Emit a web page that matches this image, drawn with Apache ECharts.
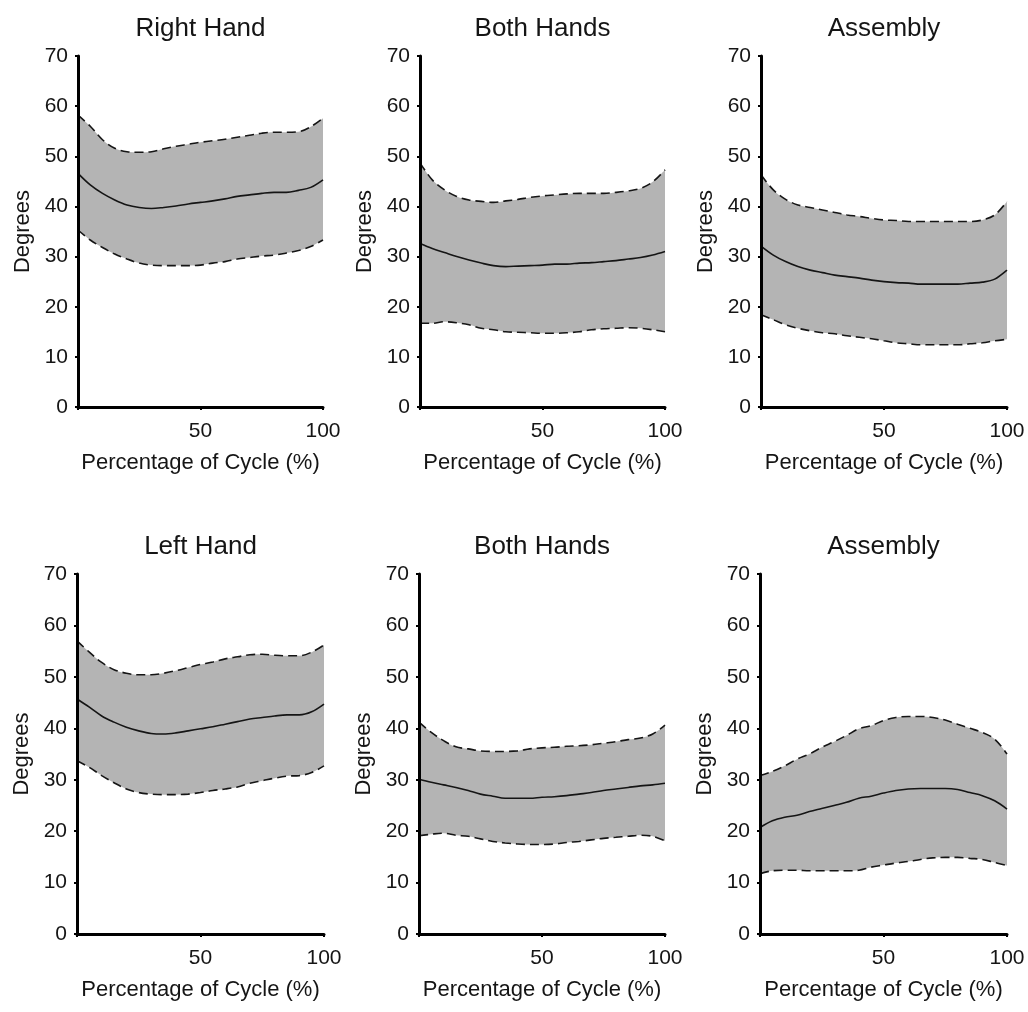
<!DOCTYPE html>
<html>
<head>
<meta charset="utf-8">
<title>Joint angle over the work cycle</title>
<script src="https://cdn.jsdelivr.net/npm/echarts@6/dist/echarts.min.js"></script>
<style>
  html, body { margin: 0; padding: 0; background: #ffffff; }
  #chart { width: 1028px; height: 1012px; }
</style>
</head>
<body>
<div id="chart"></div>
<script>
// Percentage of the cycle at which each curve is sampled
const pct = [0, 5, 10, 15, 20, 25, 30, 35, 40, 45, 50, 55, 60, 65, 70, 75, 80, 85, 90, 95, 100];

// Tick values of the axes
const yTicks = [0, 10, 20, 30, 40, 50, 60, 70];
const xTicks = [0, 50, 100];

// Panel titles, in reading order (top row, then bottom row)
const titles = ['Right Hand', 'Both Hands', 'Assembly', 'Left Hand', 'Both Hands', 'Assembly'];

// Right Hand
const rightHandUpper = [58.2, 56.0, 53.3, 51.6, 50.9, 50.8, 50.9, 51.5, 52.0, 52.4, 52.8, 53.1, 53.4, 53.8, 54.2, 54.6, 54.8, 54.8, 54.9, 55.9, 57.6];
const rightHandMean  = [46.6, 44.3, 42.6, 41.3, 40.3, 39.8, 39.6, 39.8, 40.1, 40.5, 40.8, 41.1, 41.5, 42.0, 42.3, 42.6, 42.8, 42.8, 43.2, 43.8, 45.3];
const rightHandLower = [35.3, 33.3, 31.8, 30.5, 29.5, 28.7, 28.3, 28.2, 28.2, 28.2, 28.3, 28.7, 29.0, 29.5, 29.8, 30.1, 30.3, 30.7, 31.2, 32.0, 33.3];

// Both Hands (top)
const bothTopUpper = [48.7, 45.3, 43.3, 42.0, 41.3, 41.0, 40.8, 41.1, 41.4, 41.8, 42.1, 42.3, 42.5, 42.6, 42.6, 42.6, 42.8, 43.1, 43.6, 44.9, 47.3];
const bothTopMean  = [32.6, 31.6, 30.8, 30.0, 29.3, 28.7, 28.2, 28.0, 28.1, 28.2, 28.3, 28.5, 28.5, 28.7, 28.8, 29.0, 29.2, 29.5, 29.8, 30.3, 31.0];
const bothTopLower = [16.7, 16.7, 17.0, 16.8, 16.4, 15.7, 15.4, 15.0, 14.9, 14.8, 14.7, 14.7, 14.8, 15.0, 15.4, 15.6, 15.7, 15.8, 15.7, 15.4, 15.0];

// Assembly (top)
const assemblyTopUpper = [46.3, 43.3, 41.4, 40.3, 39.8, 39.3, 38.8, 38.3, 38.0, 37.6, 37.3, 37.2, 37.0, 37.0, 37.0, 37.0, 37.0, 37.0, 37.3, 38.3, 41.0];
const assemblyTopMean  = [32.1, 30.3, 29.0, 28.0, 27.3, 26.8, 26.3, 26.0, 25.7, 25.3, 25.0, 24.8, 24.7, 24.5, 24.5, 24.5, 24.5, 24.7, 24.9, 25.5, 27.3];
const assemblyTopLower = [18.4, 17.4, 16.4, 15.7, 15.2, 14.8, 14.6, 14.2, 13.9, 13.6, 13.2, 12.8, 12.6, 12.4, 12.4, 12.4, 12.4, 12.6, 12.8, 13.2, 13.5];

// Left Hand
const leftHandUpper = [57.0, 54.8, 52.8, 51.4, 50.7, 50.4, 50.4, 50.7, 51.2, 51.8, 52.4, 52.9, 53.5, 53.9, 54.3, 54.4, 54.2, 54.1, 54.1, 54.8, 56.2];
const leftHandMean  = [45.7, 44.1, 42.4, 41.2, 40.2, 39.5, 39.0, 38.9, 39.1, 39.5, 39.9, 40.3, 40.8, 41.3, 41.8, 42.1, 42.4, 42.6, 42.6, 43.2, 44.7];
const leftHandLower = [33.7, 32.4, 30.8, 29.4, 28.2, 27.5, 27.2, 27.1, 27.1, 27.2, 27.5, 27.9, 28.2, 28.6, 29.3, 29.8, 30.3, 30.7, 30.8, 31.4, 32.7];

// Both Hands (bottom)
const bothBottomUpper = [41.2, 39.2, 37.6, 36.4, 36.0, 35.6, 35.5, 35.5, 35.6, 36.0, 36.2, 36.3, 36.5, 36.6, 36.8, 37.1, 37.4, 37.8, 38.1, 38.9, 40.6];
const bothBottomMean  = [30.1, 29.5, 29.0, 28.5, 27.9, 27.2, 26.8, 26.4, 26.4, 26.4, 26.6, 26.7, 26.9, 27.2, 27.5, 27.9, 28.2, 28.5, 28.8, 29.0, 29.3];
const bothBottomLower = [19.1, 19.4, 19.6, 19.2, 19.0, 18.5, 18.0, 17.7, 17.5, 17.4, 17.4, 17.5, 17.8, 18.0, 18.3, 18.6, 18.8, 19.0, 19.2, 19.0, 18.1];

// Assembly (bottom)
const assemblyBottomUpper = [30.8, 31.6, 32.7, 34.0, 35.0, 36.3, 37.4, 38.6, 39.9, 40.5, 41.5, 42.1, 42.3, 42.3, 42.1, 41.6, 40.8, 40.0, 39.2, 37.9, 35.0];
const assemblyBottomMean  = [20.7, 22.0, 22.7, 23.1, 23.8, 24.4, 25.0, 25.6, 26.4, 26.8, 27.4, 27.9, 28.2, 28.3, 28.3, 28.3, 28.1, 27.5, 26.9, 25.9, 24.3];
const assemblyBottomLower = [11.7, 12.3, 12.4, 12.4, 12.3, 12.3, 12.3, 12.3, 12.4, 13.0, 13.4, 13.8, 14.1, 14.5, 14.8, 14.9, 14.9, 14.7, 14.5, 13.9, 13.3];

const uppers = [rightHandUpper, bothTopUpper, assemblyTopUpper, leftHandUpper, bothBottomUpper, assemblyBottomUpper];
const means  = [rightHandMean, bothTopMean, assemblyTopMean, leftHandMean, bothBottomMean, assemblyBottomMean];
const lowers = [rightHandLower, bothTopLower, assemblyTopLower, leftHandLower, bothBottomLower, assemblyBottomLower];

// Plot rectangles of the six panels (pixels)
const boxes = [
  { left: 78,  top: 56,  width: 245, height: 351 },
  { left: 420, top: 56,  width: 245, height: 351 },
  { left: 761, top: 56,  width: 246, height: 351 },
  { left: 77,  top: 574, width: 247, height: 360 },
  { left: 419, top: 574, width: 246, height: 360 },
  { left: 760, top: 574, width: 247, height: 360 }
];

const FONT = '"Liberation Sans", Arial, Helvetica, sans-serif';
const INK = '#151515';
const BAND = '#b4b4b4';
const SMOOTH = 0.35;

const grid = [], xAxis = [], yAxis = [], series = [], graphic = [];

boxes.forEach((b, i) => {
  grid.push({ left: b.left, top: b.top, width: b.width, height: b.height, containLabel: false });

  xAxis.push({
    gridIndex: i, type: 'value',
    min: xTicks[0], max: xTicks[xTicks.length - 1], interval: xTicks[1] - xTicks[0],
    name: 'Percentage of Cycle (%)', nameLocation: 'middle', nameGap: 45,
    nameTextStyle: { fontFamily: FONT, fontSize: 22, color: INK },
    axisLine: { show: true, lineStyle: { color: '#000', width: 3 } },
    axisTick: { show: true, length: 3, lineStyle: { color: '#000', width: 2 } },
    axisLabel: {
      fontFamily: FONT, fontSize: 21, color: INK, margin: 14,
      formatter: v => (v === xTicks[0] ? '' : String(v))
    },
    splitLine: { show: false },
    z: 5
  });

  yAxis.push({
    gridIndex: i, type: 'value',
    min: yTicks[0], max: yTicks[yTicks.length - 1], interval: yTicks[1] - yTicks[0],
    name: 'Degrees', nameLocation: 'middle', nameGap: 44, nameRotate: 90,
    nameTextStyle: { fontFamily: FONT, fontSize: 22, color: INK },
    axisLine: { show: true, lineStyle: { color: '#000', width: 3 } },
    axisTick: { show: true, length: 3, lineStyle: { color: '#000', width: 2 } },
    axisLabel: { fontFamily: FONT, fontSize: 21, color: INK, margin: 10 },
    splitLine: { show: false },
    z: 5
  });

  const lower = lowers[i], upper = uppers[i], mean = means[i];
  const common = { xAxisIndex: i, yAxisIndex: i, type: 'line', symbol: 'none', smooth: SMOOTH, silent: true, animation: false };

  // Shaded range: grey fill from the upper bound down to the axis,
  // then a white fill from the lower bound down to the axis clears the part below the range.
  series.push(Object.assign({}, common, {
    name: titles[i] + ' range', z: 1,
    data: pct.map((x, j) => [x, upper[j]]),
    lineStyle: { opacity: 0 },
    areaStyle: { color: BAND, opacity: 1, origin: 'start' }
  }));
  series.push(Object.assign({}, common, {
    name: titles[i] + ' below range', z: 2,
    data: pct.map((x, j) => [x, lower[j]]),
    lineStyle: { opacity: 0 },
    areaStyle: { color: '#ffffff', opacity: 1, origin: 'start' }
  }));

  // Upper and lower bounds (dashed) and mean (solid)
  series.push(Object.assign({}, common, {
    name: titles[i] + ' upper', z: 3,
    data: pct.map((x, j) => [x, upper[j]]),
    lineStyle: { color: INK, width: 1.6, type: [9, 5] }
  }));
  series.push(Object.assign({}, common, {
    name: titles[i] + ' lower', z: 3,
    data: pct.map((x, j) => [x, lower[j]]),
    lineStyle: { color: INK, width: 1.6, type: [9, 5] }
  }));
  series.push(Object.assign({}, common, {
    name: titles[i] + ' mean', z: 3,
    data: pct.map((x, j) => [x, mean[j]]),
    lineStyle: { color: INK, width: 1.6 }
  }));

  // Panel title centred over the plot
  graphic.push({
    type: 'text',
    x: b.left + b.width / 2,
    y: b.top - 27,
    style: {
      text: titles[i], fill: INK,
      font: '26px ' + FONT,
      textAlign: 'center', textVerticalAlign: 'middle'
    }
  });
});

const chart = echarts.init(document.getElementById('chart'), null, { renderer: 'canvas' });
chart.setOption({
  backgroundColor: '#ffffff',
  animation: false,
  grid, xAxis, yAxis, series, graphic
});
</script>
</body>
</html>
